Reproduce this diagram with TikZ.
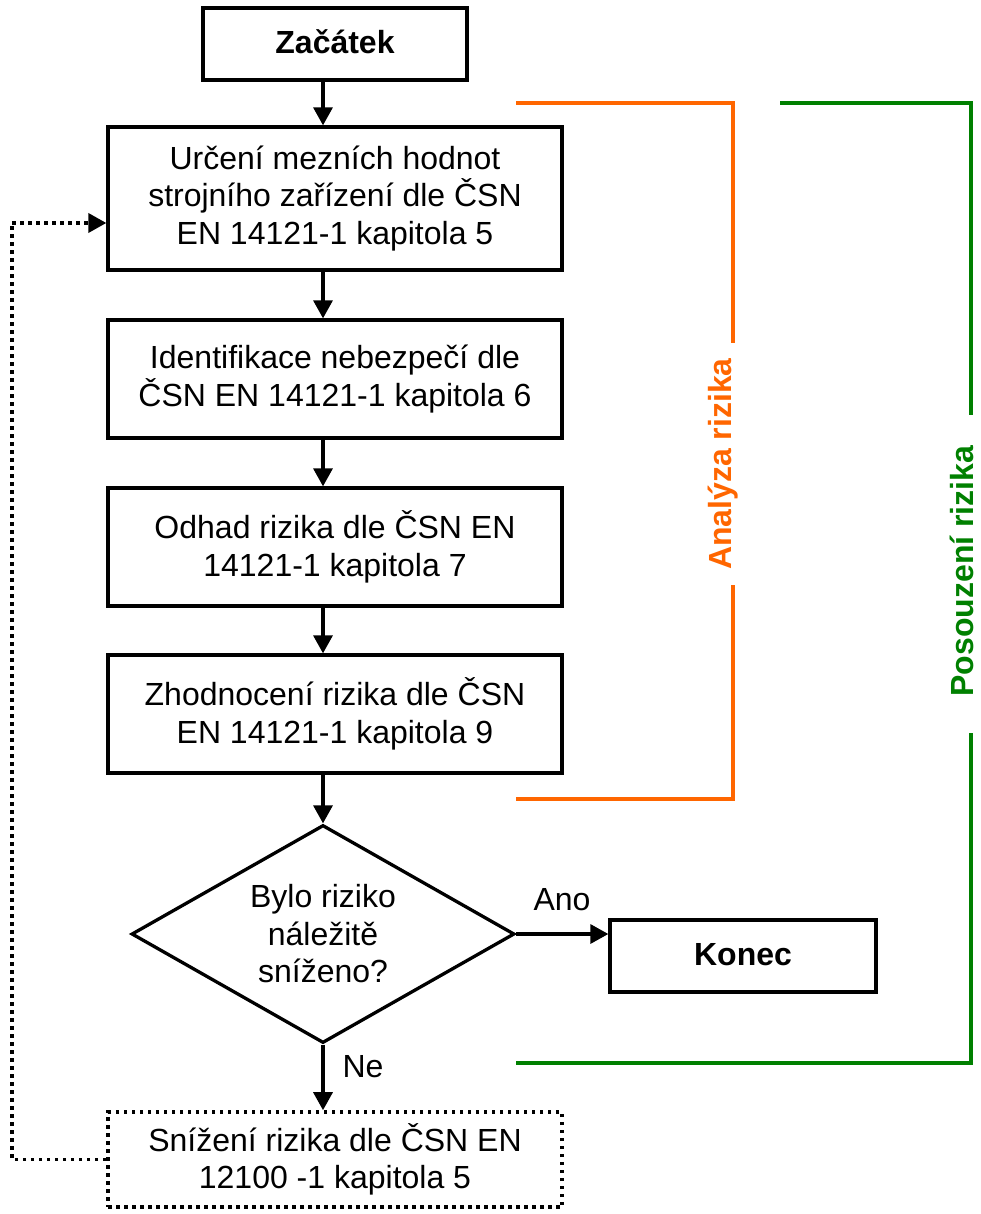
\documentclass[tikz,border=0pt]{standalone}
\usepackage{fontspec}
\setmainfont{Liberation Sans}
\usetikzlibrary{shapes.geometric,arrows.meta,calc}
\definecolor{orng}{RGB}{255,102,0}
\definecolor{grn}{RGB}{0,128,0}
\begin{document}
\begin{tikzpicture}[x=1pt,y=-1pt,
  txt/.style={font=\fontsize{32}{37.5}\selectfont, align=center, inner sep=0pt},
  box/.style={txt, draw, line width=3.3pt, minimum width=454pt},
  dotbox/.style={box, line width=3.6pt, dash pattern=on 3.5pt off 4.5pt},
  arr/.style={line width=3.3pt, -{Triangle[length=18pt,width=19pt]}},
  dotline/.style={line width=3.6pt, dash pattern=on 3.5pt off 4.5pt},
  brk/.style={line width=3.6pt},
  side/.style={font=\fontsize{32}{37.5}\selectfont\bfseries, inner sep=0pt, rotate=90}
]
\useasboundingbox (0,0) rectangle (981,1214);
\fill[white] (0,0) rectangle (981,1214);

% nodes
\node[txt, draw, line width=3.3pt, minimum width=264pt, minimum height=72pt, font=\fontsize{32}{37.5}\selectfont\bfseries, text depth=4pt] (start) at (335,44) {Začátek};
\node[box, minimum height=143pt] (b1) at (335,198.5) {Určení mezních hodnot\\strojního zařízení dle ČSN\\EN 14121-1 kapitola 5};
\node[box, minimum height=118pt] (b2) at (335,379) {Identifikace nebezpečí dle\\ČSN EN 14121-1 kapitola 6};
\node[box, minimum height=118pt] (b3) at (335,547) {Odhad rizika dle ČSN EN\\14121-1 kapitola 7};
\node[box, minimum height=118pt] (b4) at (335,714) {Zhodnocení rizika dle ČSN\\EN 14121-1 kapitola 9};
\node[txt, diamond, draw, line width=3.3pt, aspect=1.77, minimum width=383pt, minimum height=218pt] (d) at (323,934) {Bylo riziko\\náležitě\\sníženo?};
\node[txt, draw, line width=3.3pt, minimum width=266pt, minimum height=72pt, font=\fontsize{32}{37.5}\selectfont\bfseries, text depth=4pt] (konec) at (743,956) {Konec};
\node[dotbox, minimum height=95pt] (s) at (335,1159.5) {Snížení rizika dle ČSN EN\\12100 -1 kapitola 5};

% labels
\node[txt] (ano) at (562,900) {Ano};
\node[txt] (ne) at (363,1067) {Ne};

% column of main arrows
\coordinate (ax) at (323,0);
\draw[arr] (start.south -| ax) -- (b1.north -| ax);
\draw[arr] (b1.south -| ax) -- (b2.north -| ax);
\draw[arr] (b2.south -| ax) -- (b3.north -| ax);
\draw[arr] (b3.south -| ax) -- (b4.north -| ax);
\draw[arr] (b4.south -| ax) -- (d.north);
\draw[arr] (d.east) -- (konec.west |- d.east);
\draw[arr] (d.south) -- (s.north -| d.south);

% feedback loop
\coordinate (fb) at (12,223);
\draw[dotline] (s.west) -| (fb);
\draw[dotline, -{Triangle[length=18pt,width=19pt]}] (fb) -- (fb -| b1.west);

% orange bracket
\node[side, text=orng] (an) at (723,464) {Analýza rizika};
\coordinate (o1) at (516,103);
\coordinate (o2) at (733,103);
\coordinate (o3) at (733,343);
\coordinate (o4) at (733,585);
\coordinate (o5) at (733,799);
\coordinate (o6) at (516,799);
\draw[brk, orng] (o1) -- (o2) -- (o3);
\draw[brk, orng] (o4) -- (o5) -- (o6);

% green bracket
\node[side, text=grn] (po) at (962,571) {Posouzení rizika};
\coordinate (g1) at (780,103);
\coordinate (g2) at (971,103);
\coordinate (g3) at (971,415);
\coordinate (g4) at (971,733);
\coordinate (g5) at (971,1063);
\coordinate (g6) at (516,1063);
\draw[brk, grn] (g1) -- (g2) -- (g3);
\draw[brk, grn] (g4) -- (g5) -- (g6);
\end{tikzpicture}
\end{document}
